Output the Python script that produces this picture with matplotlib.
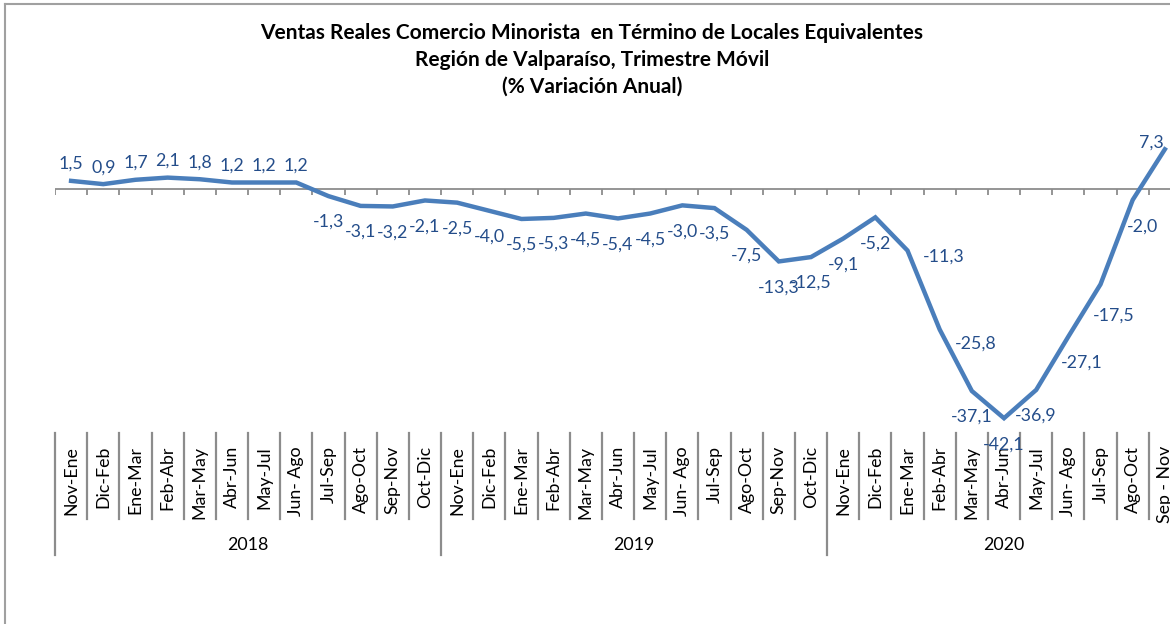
import matplotlib
matplotlib.use("Agg")
import matplotlib.pyplot as plt
import matplotlib.transforms as mtransforms

plt.rcParams['font.family'] = ['Lato', 'DejaVu Sans']

# datos
years = ['2018', '2019', '2020']
periods_2018 = ['Nov-Ene', 'Dic-Feb', 'Ene-Mar', 'Feb-Abr', 'Mar-May', 'Abr-Jun',
                'May-Jul', 'Jun- Ago', 'Jul-Sep', 'Ago-Oct', 'Sep-Nov', 'Oct-Dic']
periods_2019 = ['Nov-Ene', 'Dic-Feb', 'Ene-Mar', 'Feb-Abr', 'Mar-May', 'Abr-Jun',
                'May-Jul', 'Jun- Ago', 'Jul-Sep', 'Ago-Oct', 'Sep-Nov', 'Oct-Dic']
periods_2020 = ['Nov-Ene', 'Dic-Feb', 'Ene-Mar', 'Feb-Abr', 'Mar-May', 'Abr-Jun',
                'May-Jul', 'Jun- Ago', 'Jul-Sep', 'Ago-Oct', 'Sep - Nov']
var_2018 = [1.5, 0.9, 1.7, 2.1, 1.8, 1.2, 1.2, 1.2, -1.3, -3.1, -3.2, -2.1]
var_2019 = [-2.5, -4.0, -5.5, -5.3, -4.5, -5.4, -4.5, -3.0, -3.5, -7.5, -13.3, -12.5]
var_2020 = [-9.1, -5.2, -11.3, -25.8, -37.1, -42.1, -36.9, -27.1, -17.5, -2.0, 7.3]

labels = periods_2018 + periods_2019 + periods_2020
values = var_2018 + var_2019 + var_2020
group_sizes = [len(periods_2018), len(periods_2019), len(periods_2020)]
n = len(values)
x = list(range(n))

W, H = 1170, 624
fig = plt.figure(figsize=(W / 100, H / 100), dpi=100)

# ancho de categoria ~32.17 px, el grafico queda cortado a la derecha
cat_w = 32.17
left_px, top_px, bot_px = 55, 134.6, 434
ax = fig.add_axes([left_px / W, 1 - bot_px / H, n * cat_w / W, (bot_px - top_px) / H])
ax.set_xlim(-0.5, n - 0.5)
ax.set_ylim(-45, 10)
ax.axis('off')

blue = '#4A7EBB'
lbl_col = '#244D8A'
gray = '#8C8C8C'

ax.axhline(0, color=gray, lw=1.3, zorder=1)
ax.vlines([i - 0.5 for i in range(n + 1)], -1.1, 0, color=gray, lw=1.3, zorder=1)
ax.plot(x, values, color=blue, lw=3.2, solid_joinstyle='miter', zorder=3)

# posicion de etiquetas (px): por defecto arriba si positivo, abajo si negativo
special = {26: (36, -6), 27: (36, -14), 31: (13, -26), 32: (13, -31),
           33: (10, -27), 34: (-13, 7)}
for i, v in enumerate(values):
    dx, dy = special.get(i, (0, 17 if v >= 0 else -26))
    ax.annotate(f'{v:.1f}'.replace('.', ','), (i, v), xytext=(dx * 0.72, dy * 0.72),
                textcoords='offset points', ha='center', va='center',
                fontsize=12.8, color=lbl_col, zorder=4)

# eje de categorias de dos niveles
tr = mtransforms.blended_transform_factory(ax.transData, fig.transFigure)
def fy(p):
    return 1 - p / H

starts = [0]
for g in group_sizes[:-1]:
    starts.append(starts[-1] + g)
for i in range(n + 1):
    bottom = 555 if i in starts else 519
    ax.plot([i - 0.5, i - 0.5], [fy(433), fy(bottom)], transform=tr, color=gray,
            lw=1.6, clip_on=False)
for i, lab in enumerate(labels):
    ax.text(i, fy(446), lab, transform=tr, rotation=90, ha='center', va='top',
            fontsize=12.8, color='black', clip_on=False)
for s, g, yr in zip(starts, group_sizes, years):
    ax.text(s + (g - 1) / 2, fy(545), yr, transform=tr, ha='center', va='center',
            fontsize=12.8, color='black', clip_on=False)

# titulo
title_lines = ['Ventas Reales Comercio Minorista  en Término de Locales Equivalentes',
               'Región de Valparaíso, Trimestre Móvil',
               '(% Variación Anual)']
for k, t in enumerate(title_lines):
    fig.text(592 / W, fy(33 + 27 * k), t, ha='center', va='center',
             fontsize=15, fontweight='bold', color='black')

# borde del area del grafico
fig.add_artist(plt.Line2D([5 / W, 5 / W], [0, fy(4)], color='#A0A0A0', lw=1.5))
fig.add_artist(plt.Line2D([5 / W, 1], [fy(4), fy(4)], color='#A0A0A0', lw=1.5))

fig.savefig('out.png', dpi=100)
